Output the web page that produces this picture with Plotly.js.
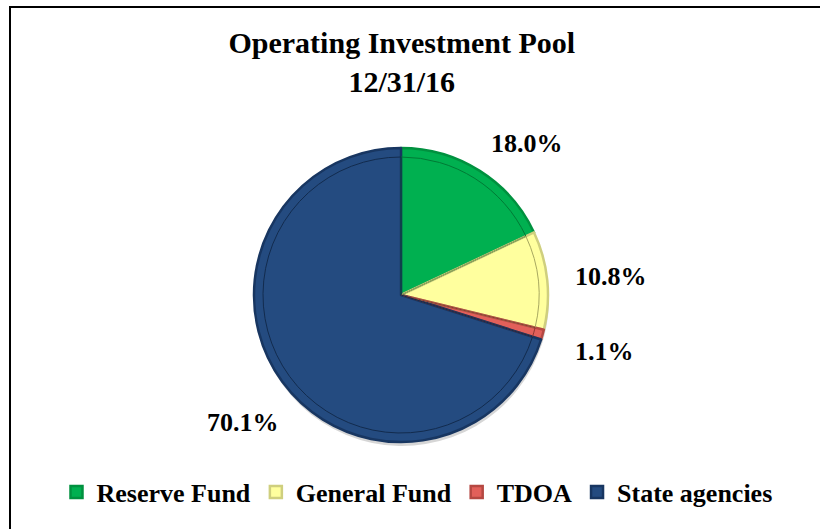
<!DOCTYPE html>
<html>
<head>
<meta charset="utf-8">
<script src="https://cdn.plot.ly/plotly-3.0.1.min.js"></script>
<style>html,body{margin:0;padding:0;background:#fff;} #chart{width:820px;height:529px;}</style>
</head>
<body>
<div id="chart"></div>
<script>
const categories = ['Reserve Fund', 'General Fund', 'TDOA', 'State agencies'];
const shares = [18.0, 10.8, 1.1, 70.1];
const sliceColors = ['#00B050', '#FFFF9E', '#E2605A', '#244B80'];
const edgeColors = ['#00913F', '#CFCF7E', '#B54842', '#183661'];
const innerColors = ['#007A35', '#A8A860', '#8E3632', '#122B4E'];
// label placement (pixels) chosen to match the reference layout
const labelPos = [[527, 144], [611, 276], [604, 351], [243, 422]];

const W = 820, H = 529;
const cx = 401, cy = 295, r = 147;
const dom = (dx, dy, rr) => ({
  x: [(cx + dx - rr) / W, (cx + dx + rr) / W],
  y: [(H - cy - dy - rr) / H, (H - cy - dy + rr) / H]
});

const shadow = {
  type: 'pie', labels: categories, values: shares, sort: false, direction: 'clockwise', rotation: 0,
  marker: {colors: categories.map(() => 'rgba(0,0,0,0.16)'), line: {width: 0}},
  textinfo: 'none', hoverinfo: 'skip', showlegend: false, domain: dom(1, 4, r)
};

const main = {
  type: 'pie', labels: categories, values: shares, sort: false, direction: 'clockwise', rotation: 0,
  marker: {colors: sliceColors, line: {color: edgeColors, width: 2.5}},
  textinfo: 'none', hoverinfo: 'label+percent', domain: dom(0, 0, r)
};

const bevel = {
  type: 'pie', labels: categories, values: shares, sort: false, direction: 'clockwise', rotation: 0,
  marker: {colors: categories.map(() => 'rgba(0,0,0,0)'), line: {color: innerColors, width: 1}},
  textinfo: 'none', hoverinfo: 'skip', showlegend: false, domain: dom(0, 0, r - 9)
};

const annotations = shares.map((v, i) => ({
  text: '<b>' + v.toFixed(1) + '%</b>',
  xref: 'paper', yref: 'paper',
  x: labelPos[i][0] / W, y: 1 - labelPos[i][1] / H,
  xanchor: 'center', yanchor: 'middle', showarrow: false,
  font: {family: 'Liberation Serif', size: 26, color: '#000'}
}));

const layout = {
  width: W, height: H,
  margin: {l: 0, r: 0, t: 0, b: 0},
  paper_bgcolor: '#fff',
  title: {
    text: '<b>Operating Investment Pool<br>12/31/16</b>',
    font: {family: 'Liberation Serif', size: 30, color: '#000'},
    x: 0.49, xanchor: 'center',
    y: 1 - 53 / H, yanchor: 'top', yref: 'container'
  },
  showlegend: true,
  legend: {
    orientation: 'h', x: 0.5 + 7 / W, xanchor: 'center', y: 1 - 492 / H, yanchor: 'middle',
    font: {family: 'Liberation Serif', size: 26, color: '#000', weight: 'bold'},
    itemwidth: 30, traceorder: 'normal'
  },
  annotations: annotations,
  shapes: [
    {type: 'line', xref: 'paper', yref: 'paper', x0: 9 / W, x1: 1, y0: 1 - 7 / H, y1: 1 - 7 / H, line: {color: '#000', width: 2}},
    {type: 'line', xref: 'paper', yref: 'paper', x0: 10 / W, x1: 10 / W, y0: 0, y1: 1 - 6 / H, line: {color: '#000', width: 2}}
  ]
};

Plotly.newPlot('chart', [shadow, main, bevel], layout, {displayModeBar: false, staticPlot: true});
</script>
</body>
</html>
